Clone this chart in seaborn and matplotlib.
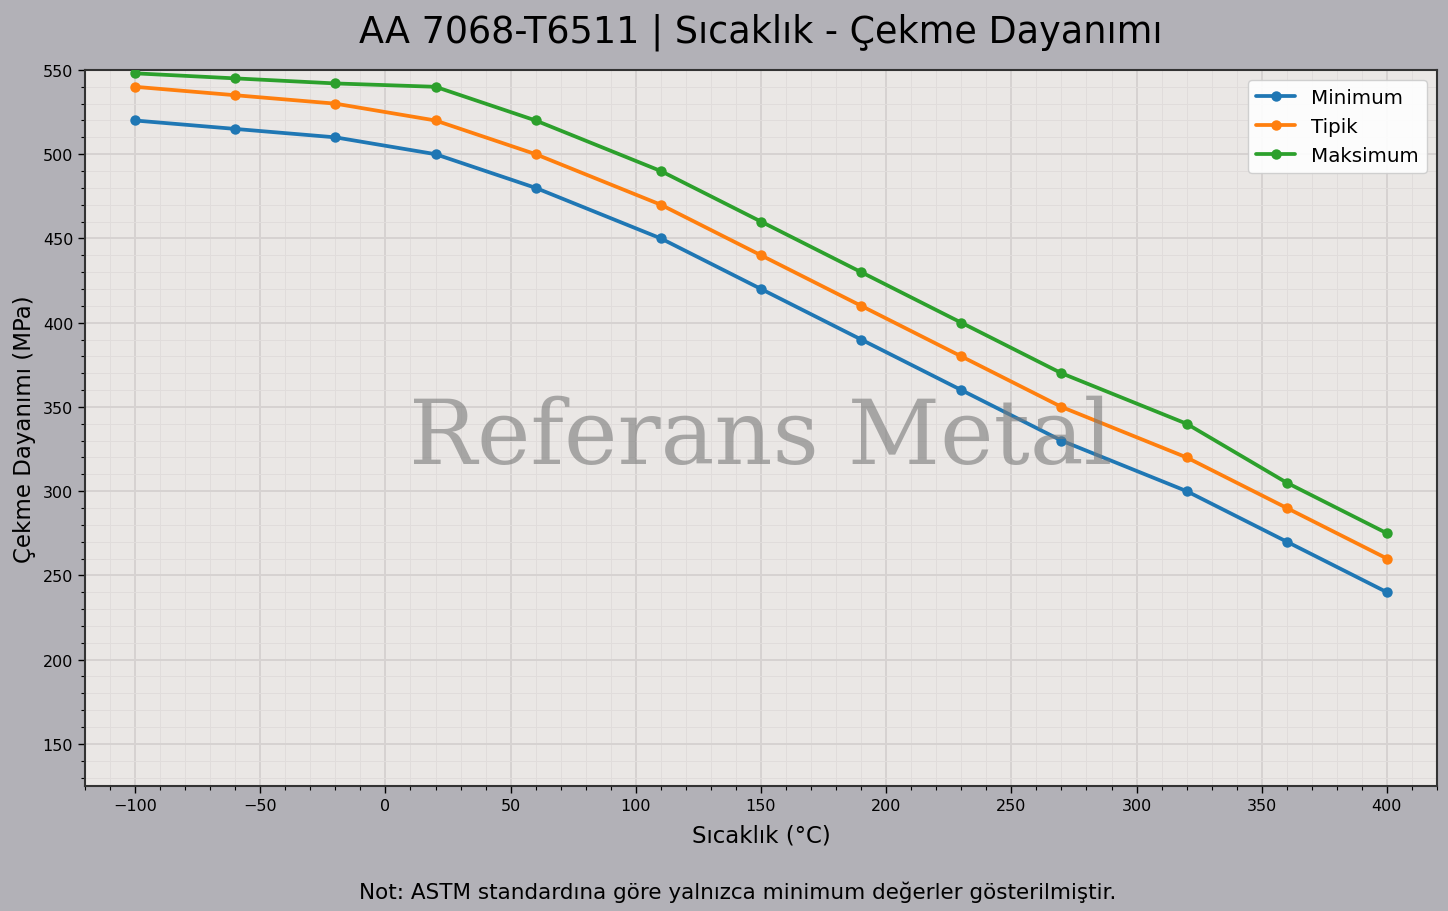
import matplotlib
matplotlib.use("Agg")
import matplotlib.pyplot as plt
import seaborn as sns
import pandas as pd
from matplotlib.ticker import MultipleLocator

temps = [-100, -60, -20, 20, 60, 110, 150, 190, 230, 270, 320, 360, 400]
minimum = [520, 515, 510, 500, 480, 450, 420, 390, 360, 330, 300, 270, 240]
tipik = [540, 535, 530, 520, 500, 470, 440, 410, 380, 350, 320, 290, 260]
maksimum = [548, 545, 542, 540, 520, 490, 460, 430, 400, 370, 340, 305, 275]
series_names = ["Minimum", "Tipik", "Maksimum"]

df = pd.DataFrame({"Sıcaklık": temps * 3,
                   "Değer": minimum + tipik + maksimum,
                   "Seri": [s for s in series_names for _ in temps]})

sns.set_style("ticks")
plt.rcParams['font.family'] = ['DejaVu Sans']
plt.rcParams.update({"text.color": "black", "axes.labelcolor": "black",
                     "xtick.color": "black", "ytick.color": "black"})

fig, ax = plt.subplots(figsize=(14.48, 9.12), dpi=100)
fig.patch.set_facecolor("#b2b1b7")
ax.set_facecolor("#eae7e5")

palette = ["#1f77b4", "#ff7f0e", "#2ca02c"]
sns.lineplot(data=df, x="Sıcaklık", y="Değer", hue="Seri", palette=palette,
             marker="o", markersize=7.5, markeredgewidth=0, linewidth=2.7, ax=ax, zorder=3)

ax.set_xlim(-120, 420)
ax.set_ylim(125, 550)
ax.xaxis.set_major_locator(MultipleLocator(50))
ax.xaxis.set_minor_locator(MultipleLocator(10))
ax.yaxis.set_major_locator(MultipleLocator(50))
ax.yaxis.set_minor_locator(MultipleLocator(10))
ax.grid(which="major", color="#d6d2d1", linewidth=1.4, zorder=0)
ax.grid(which="minor", color="#e0dcdb", linewidth=0.7, zorder=0)
ax.set_axisbelow(True)
ax.tick_params(which="major", length=5, width=1, labelsize=11.5, colors="black")
ax.tick_params(which="minor", length=3, width=0.8, colors="black")
for sp in ax.spines.values():
    sp.set_visible(True)
    sp.set_color("#333333")
    sp.set_linewidth(1.5)

ax.set_xlabel("Sıcaklık (°C)", fontsize=16.5, labelpad=7.5)
ax.set_ylabel("Çekme Dayanımı (MPa)", fontsize=16.5, labelpad=5)
fig.suptitle("AA 7068-T6511 | Sıcaklık - Çekme Dayanımı", fontsize=26.3, x=0.5255, y=0.985)

ax.text(0.5, 0.486, "Referans Metal", transform=ax.transAxes, ha="center", va="center",
        fontsize=65, family="DejaVu Serif", color="#7a7a7a", alpha=0.6, zorder=5)

leg = ax.legend(loc="upper right", fontsize=14.3, frameon=True, title=None)
leg.get_frame().set_facecolor("white")
leg.get_frame().set_alpha(0.9)

fig.text(0.5095, 0.014, "Not: ASTM standardına göre yalnızca minimum değerler gösterilmiştir.",
         ha="center", fontsize=15.5)

fig.subplots_adjust(left=0.0587, right=0.9924, top=0.9222, bottom=0.1371)
fig.savefig("out.png", dpi=100, facecolor=fig.get_facecolor())
